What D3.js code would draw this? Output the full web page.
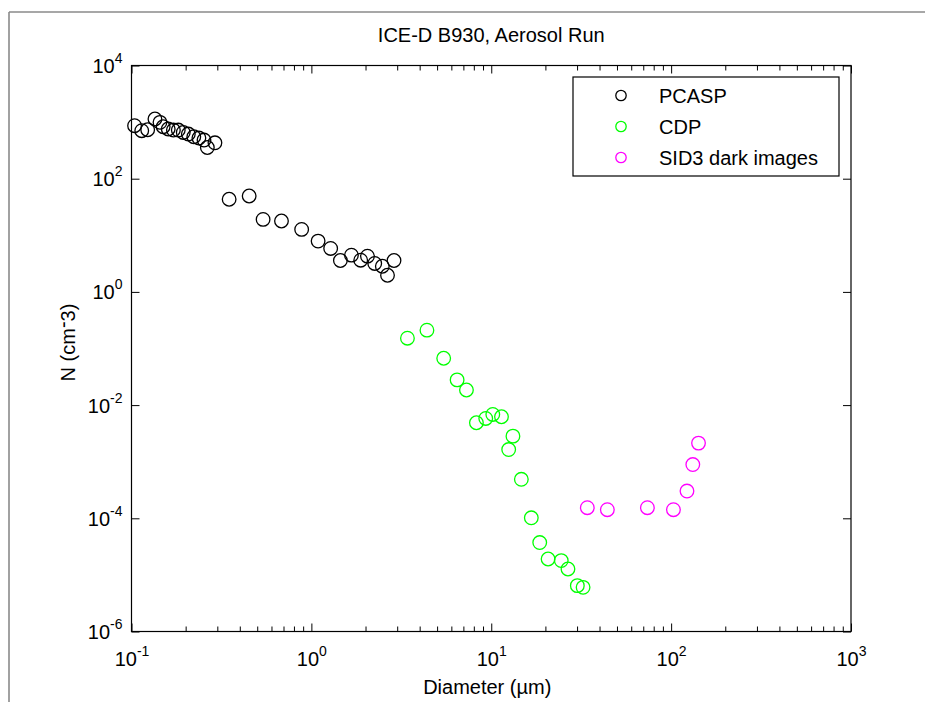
<!DOCTYPE html>
<html>
<head>
<meta charset="utf-8">
<script src="https://cdn.jsdelivr.net/npm/d3@7"></script>
<style>
  html, body { margin: 0; padding: 0; background: #fff; }
  svg { display: block; }
  text { font-family: "Liberation Sans", Arial, Helvetica, sans-serif; fill: #000; }
</style>
</head>
<body>
<svg id="chart" width="925" height="702"></svg>
<script>
// PCASP size distribution (diameter in µm, number concentration in cm^-3)
const pcaspD = [0.104, 0.114, 0.123, 0.135, 0.144, 0.150, 0.160, 0.171, 0.182, 0.194, 0.207, 0.222, 0.237, 0.253, 0.264, 0.291,
                0.349, 0.451, 0.539, 0.682, 0.883, 1.09, 1.28, 1.45, 1.67, 1.88, 2.05, 2.25, 2.48, 2.65, 2.88];
const pcaspN = [863, 705, 733, 1135, 990, 828, 756, 724, 724, 656, 615, 551, 523, 482, 356, 431,
                43.3, 49.5, 19.1, 17.9, 12.7, 7.9, 5.86, 3.59, 4.46, 3.63, 4.28, 3.18, 2.84, 1.97, 3.59];

// CDP size distribution
const cdpD = [3.42, 4.39, 5.44, 6.46, 7.28, 8.27, 9.32, 10.2, 11.4, 13.2, 12.5, 14.7, 16.7, 18.6, 20.7, 24.5, 26.7, 30.1, 32.4];
const cdpN = [0.152, 0.211, 0.0673, 0.0279, 0.0185, 0.00488, 0.00581, 0.00684, 0.00622, 0.00283, 0.00164, 0.000489,
              0.000102, 3.73e-5, 1.91e-5, 1.79e-5, 1.27e-5, 6.46e-6, 6.03e-6];

// SID3 dark images
const sidD = [34.2, 44.2, 73.8, 103, 122.5, 132, 142];
const sidN = [1.54e-4, 1.42e-4, 1.54e-4, 1.42e-4, 3.03e-4, 8.9e-4, 2.13e-3];

const seriesNames = ["PCASP", "CDP", "SID3 dark images"];
const seriesColors = ["#000000", "#00ff00", "#ff00ff"];

const xTickExps = [-1, 0, 1, 2, 3];
const yTickExps = [4, 2, 0, -2, -4, -6];

const titleText = "ICE-D B930, Aerosol Run";
const xLabelText = "Diameter (\u00b5m)";

const svg = d3.select("#chart");

// Figure frame
svg.append("line").attr("x1", 9).attr("y1", 12).attr("x2", 925).attr("y2", 12)
  .attr("stroke", "#8a8a8a").attr("stroke-width", 1.6);
svg.append("line").attr("x1", 9).attr("y1", 12).attr("x2", 9).attr("y2", 702)
  .attr("stroke", "#8a8a8a").attr("stroke-width", 1.6);

const L = 131.5, R = 851, T = 65.5, B = 631.5;

const x = d3.scaleLog().domain([1e-1, 1e3]).range([L, R]);
const y = d3.scaleLog().domain([1e-6, 1e4]).range([B, T]);

const majorX = xTickExps.map(e => Math.pow(10, e));
const minorX = [];
for (let e = -1; e < 3; e++) for (let m = 2; m <= 9; m++) minorX.push(m * Math.pow(10, e));
const majorY = yTickExps.map(e => Math.pow(10, e));

const majorLen = 8, minorLen = 5;

function styleAxis(g) {
  g.select(".domain").remove();
  g.selectAll(".tick line").attr("stroke", "#000").attr("stroke-width", 1);
}

// Minor and major x ticks on bottom and top
svg.append("g").attr("transform", `translate(0,${B})`)
  .call(d3.axisBottom(x).tickValues(minorX).tickSizeInner(-minorLen).tickSizeOuter(0).tickFormat(""))
  .call(styleAxis);
svg.append("g").attr("transform", `translate(0,${T})`)
  .call(d3.axisTop(x).tickValues(minorX).tickSizeInner(-minorLen).tickSizeOuter(0).tickFormat(""))
  .call(styleAxis);
svg.append("g").attr("transform", `translate(0,${T})`)
  .call(d3.axisTop(x).tickValues(majorX).tickSizeInner(-majorLen).tickSizeOuter(0).tickFormat(""))
  .call(styleAxis);

const xAxisG = svg.append("g").attr("transform", `translate(0,${B})`)
  .call(d3.axisBottom(x).tickValues(majorX).tickSizeInner(-majorLen).tickSizeOuter(0))
  .call(styleAxis);
xAxisG.selectAll(".tick text").each(function (d) {
  const t = d3.select(this).text(null)
    .attr("y", 34).attr("dy", 0).attr("text-anchor", "middle")
    .attr("font-size", 20).attr("font-family", null).attr("fill", "#000");
  t.append("tspan").text("10");
  t.append("tspan").attr("dy", -10).attr("font-size", 14).text(String(Math.round(Math.log10(d))));
});

// y ticks on left and right
svg.append("g").attr("transform", `translate(${R},0)`)
  .call(d3.axisRight(y).tickValues(majorY).tickSizeInner(-majorLen).tickSizeOuter(0).tickFormat(""))
  .call(styleAxis);
const yAxisG = svg.append("g").attr("transform", `translate(${L},0)`)
  .call(d3.axisLeft(y).tickValues(majorY).tickSizeInner(-majorLen).tickSizeOuter(0))
  .call(styleAxis);
yAxisG.selectAll(".tick text").each(function (d) {
  const t = d3.select(this).text(null)
    .attr("x", -9).attr("dy", 7).attr("text-anchor", "end")
    .attr("font-size", 20).attr("font-family", null).attr("fill", "#000");
  t.append("tspan").text("10");
  t.append("tspan").attr("dy", -10).attr("font-size", 14).text(String(Math.round(Math.log10(d))));
});

// Axes box
svg.append("rect").attr("x", L).attr("y", T).attr("width", R - L).attr("height", B - T)
  .attr("fill", "none").attr("stroke", "#000").attr("stroke-width", 1.2);

// Title and axis labels
svg.append("text").attr("x", (L + R) / 2).attr("y", 42).attr("text-anchor", "middle")
  .attr("font-size", 20).text(titleText);
svg.append("text").attr("x", (L + R) / 2 - 4).attr("y", 694).attr("text-anchor", "middle")
  .attr("font-size", 20).text(xLabelText);
const yl = svg.append("text").attr("transform", `translate(75,${(T + B) / 2 - 6}) rotate(-90)`)
  .attr("text-anchor", "middle").attr("font-size", 20);
yl.append("tspan").text("N (cm");
yl.append("tspan").attr("dy", -5).text("-");
yl.append("tspan").attr("dy", 5).text("3)");

// Data markers
const series = [
  { D: pcaspD, N: pcaspN },
  { D: cdpD, N: cdpN },
  { D: sidD, N: sidN }
];
series.forEach((s, i) => {
  svg.append("g").selectAll("circle")
    .data(s.D.map((d, k) => [d, s.N[k]]))
    .join("circle")
    .attr("cx", d => x(d[0]))
    .attr("cy", d => y(d[1]))
    .attr("r", 6.8)
    .attr("fill", "none")
    .attr("stroke", seriesColors[i])
    .attr("stroke-width", 1.3);
});

// Legend
const lg = svg.append("g");
lg.append("rect").attr("x", 573).attr("y", 77).attr("width", 266).attr("height", 99)
  .attr("fill", "#fff").attr("stroke", "#000").attr("stroke-width", 1.2);
seriesNames.forEach((name, i) => {
  const cy = 95.5 + i * 31;
  lg.append("circle").attr("cx", 621).attr("cy", cy).attr("r", 5.2)
    .attr("fill", "none").attr("stroke", seriesColors[i]).attr("stroke-width", 1.3);
  lg.append("text").attr("x", 659).attr("y", cy + 7.5).attr("font-size", 20).text(name);
});
</script>
</body>
</html>
